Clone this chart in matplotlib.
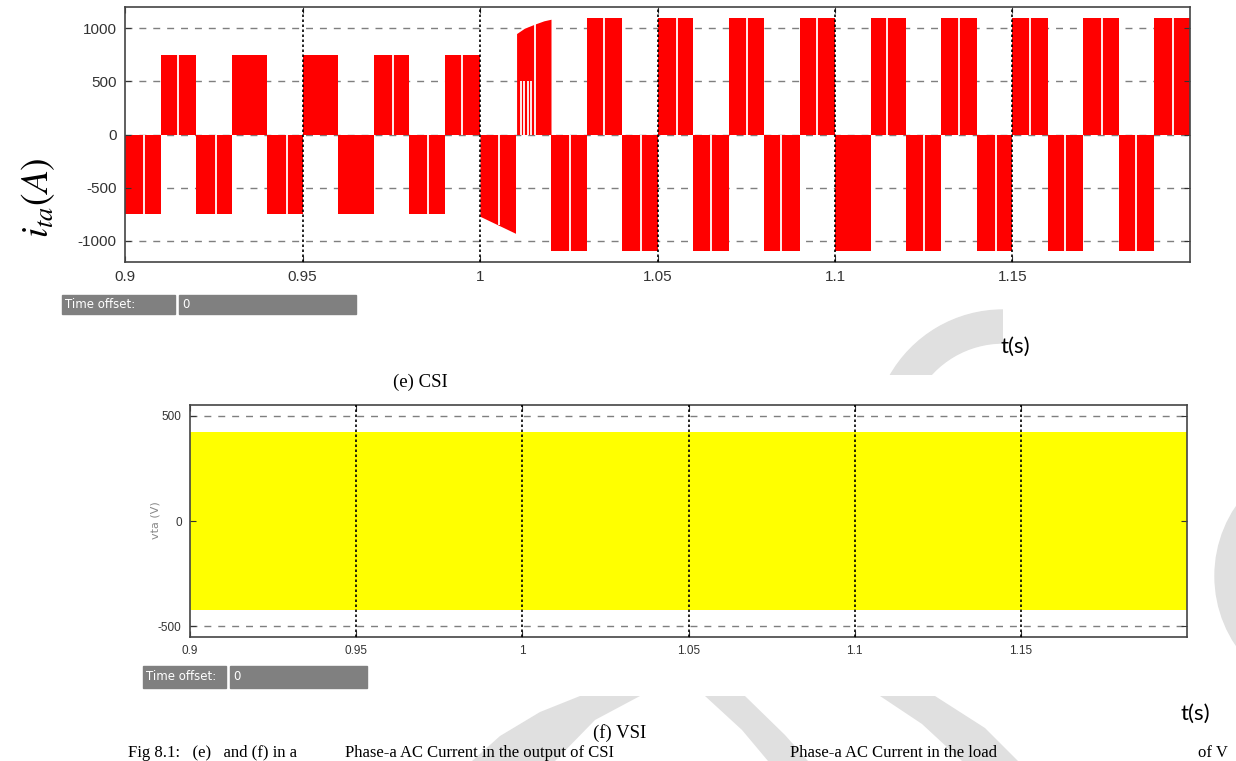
import matplotlib
matplotlib.use("Agg")
import matplotlib.pyplot as plt
from matplotlib.patches import Wedge, Circle, Rectangle, Polygon

plt.rcParams['mathtext.fontset'] = 'stix'
plt.rcParams['axes.unicode_minus'] = False

# CSI phase-a current: block edges (s) and level of each block (A)
csi_edges = [0.900, 0.910, 0.920, 0.930, 0.940, 0.950, 0.960, 0.970, 0.980, 0.990,
             1.000, 1.010, 1.020, 1.030, 1.040, 1.050, 1.060, 1.070, 1.080, 1.090,
             1.100, 1.110, 1.120, 1.130, 1.140, 1.150, 1.160, 1.170, 1.180, 1.190, 1.200]
csi_level = [-750, 750, -750, 750, -750, 750, -750, 750, -750, 750,
             None, None, -1100, 1100, -1100, 1100, -1100, 1100, -1100, 1100,
             -1100, 1100, -1100, 1100, -1100, 1100, -1100, 1100, -1100, 1100]
# transient blocks right after the step at t = 1 s
ramp_neg_t = [1.000, 1.010]
ramp_neg_i = [-770, -930]
ramp_pos_t = [1.0103, 1.0125, 1.0155, 1.018, 1.020]
ramp_pos_i = [950, 1000, 1040, 1070, 1085]
# switching notches inside the blocks
notch_t = [0.9054, 0.9149, 0.9256, 0.9456, 0.9755, 0.9854, 0.9949, 1.0054, 1.0155,
           1.0254, 1.0349, 1.0454, 1.0555, 1.0651, 1.0752, 1.0848, 1.0949, 1.1146,
           1.1251, 1.1349, 1.1453, 1.1549, 1.1648, 1.1752, 1.1848, 1.1952]
notch_i = [-750, 750, -750, -750, 750, -750, 750, -850, 1040,
           -1100, 1100, -1100, 1100, -1100, 1100, -1100, 1100, 1100,
           -1100, 1100, -1100, 1100, -1100, 1100, -1100, 1100]
stripe_t = [1.0115, 1.0124, 1.0134, 1.0143]
stripe_i = [500, 500, 500, 500]

# VSI phase-a voltage envelope
vsi_t = [0.9, 1.2]
vsi_hi = [420, 420]
vsi_lo = [-420, -420]

csi_yticks = [-1000, -500, 0, 500, 1000]
vsi_yticks = [-500, 0, 500]
t_ticks = [0.9, 0.95, 1.0, 1.05, 1.1, 1.15]
t_labels = ['0.9', '0.95', '1', '1.05', '1.1', '1.15']

W, H = 1236, 761
fig = plt.figure(figsize=(W / 100, H / 100), dpi=100)
fig.patch.set_facecolor('white')

# page layer in pixel coordinates
bg = fig.add_axes([0, 0, 1, 1], zorder=-5)
bg.set_xlim(0, W)
bg.set_ylim(H, 0)
bg.axis('off')

serif = ['Liberation Serif', 'DejaVu Serif']
caption = [(128, 'Fig 8.1:   (e)   and (f) in a'),
           (345, 'Phase-a AC Current in the output of CSI'),
           (790, 'Phase-a AC Current in the load'),
           (1198, 'of V')]
for x, s in caption:
    bg.text(x, 761, s, fontsize=12, family=serif, va='bottom', ha='left', zorder=4)
bg.text(620, 733, '(f) VSI', fontsize=13.5, family=serif, ha='center', va='center', zorder=4)
bg.text(420, 382, '(e) CSI', fontsize=13.5, family=serif, ha='center', va='center')
bg.text(1015, 347, 't(s)', fontsize=16, family='Lato', ha='center', va='center', zorder=4)
bg.text(1195, 714, 't(s)', fontsize=16, family='Lato', ha='center', va='center', zorder=4)

# light page watermark
wm = '#e0e0e0'
arc = Wedge((1003, 440), 130, 209, 270, width=33, color=wm, zorder=2)
bg.add_patch(arc)
arc.set_clip_path(Rectangle((0, 0), 1003, 375, transform=bg.transData))
bg.add_patch(Circle((1339, 576), 124, color=wm, zorder=2))
bands = [
    [(472, 761), (500, 736), (540, 712), (580, 696), (640, 696), (595, 720), (555, 761)],
    [(705, 696), (745, 696), (785, 735), (808, 761), (768, 761), (742, 730)],
    [(880, 696), (935, 696), (985, 728), (1018, 761), (962, 761), (922, 724)],
]
for pts in bands:
    bg.add_patch(Polygon(pts, closed=True, color=wm, lw=0, zorder=2))

# "Time offset" bars under each scope
bar = '#808080'
for x0, x1, x2, x3, y0, h, val in [(62, 175, 179, 356, 295, 19, '0'),
                                   (143, 226, 230, 367, 666, 22, '0')]:
    bg.add_patch(Rectangle((x0, y0), x1 - x0, h, color=bar, zorder=2))
    bg.add_patch(Rectangle((x2, y0), x3 - x2, h, color=bar, zorder=2))
    bg.text(x0 + 3, y0 + h / 2, 'Time offset:', color='white', fontsize=8.5,
            family='DejaVu Sans', va='center', zorder=3)
    bg.text(x2 + 3, y0 + h / 2, val, color='white', fontsize=8.5,
            family='DejaVu Sans', va='center', zorder=3)


def scope_axes(rect, yticks, ylim, fs):
    ax = fig.add_axes(rect)
    ax.set_facecolor('white')
    ax.set_xlim(0.9, 1.2)
    ax.set_ylim(*ylim)
    ax.set_xticks(t_ticks)
    ax.set_xticklabels(t_labels)
    ax.set_yticks(yticks)
    ax.tick_params(direction='in', length=4, labelsize=fs, colors='#333333',
                   top=True, right=True, pad=6)
    for lab in ax.get_xticklabels() + ax.get_yticklabels():
        lab.set_family('Liberation Sans')
    for s in ax.spines.values():
        s.set_color('#444444')
        s.set_linewidth(1.2)
    for y in yticks:
        ax.axhline(y, color='#7f7f7f', ls=(0, (5, 5)), lw=1, zorder=0)
    for t in t_ticks[1:]:
        ax.axvline(t, color='black', ls=(0, (1.5, 1.5)), lw=1.2, zorder=3)
    return ax


ax1 = scope_axes([125 / W, 1 - 262 / H, 1065 / W, 255 / H], csi_yticks, (-1200, 1200), 11)
for k, lev in enumerate(csi_level):
    if lev is None:
        continue
    ax1.fill_between([csi_edges[k], csi_edges[k + 1]], 0, lev, color='#ff0000', lw=0, zorder=1)
ax1.fill_between(ramp_neg_t, 0, ramp_neg_i, color='#ff0000', lw=0, zorder=1)
ax1.fill_between(ramp_pos_t, 0, ramp_pos_i, color='#ff0000', lw=0, zorder=1)
ax1.vlines(notch_t, 0, notch_i, color='white', lw=1.3, zorder=2)
ax1.vlines(stripe_t, 0, stripe_i, color='white', lw=1.3, zorder=2)
ax1.text(38 / W, 1 - 198 / H, r'$i_{ta}(A)$', transform=fig.transFigure,
         rotation=90, fontsize=27, ha='center', va='center')

ax2 = scope_axes([190 / W, 1 - 637 / H, 997 / W, 232 / H], vsi_yticks, (-550, 550), 8.5)
ax2.fill_between(vsi_t, vsi_lo, vsi_hi, color='#ffff00', lw=0, zorder=1)
ax2.text(155 / W, 1 - 520 / H, 'vta (V)', transform=fig.transFigure,
         rotation=90, fontsize=8, color='#888888', ha='center', va='center')

fig.savefig('out.png', dpi=100)
